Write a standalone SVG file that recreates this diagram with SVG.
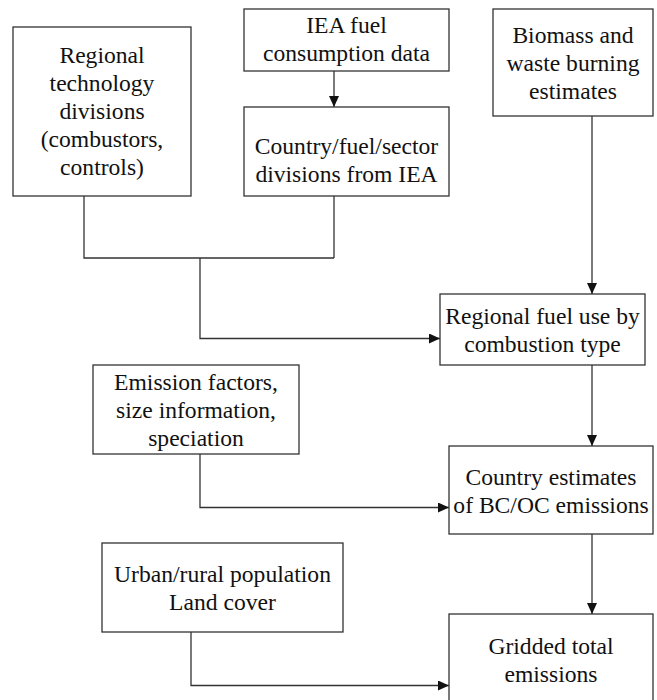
<svg xmlns="http://www.w3.org/2000/svg" width="657" height="700" viewBox="0 0 657 700" font-family="Liberation Serif, DejaVu Serif, serif">
<style>
rect.box{fill:#fff;stroke:#333;stroke-width:1.3}
text{font-size:23.6px;fill:#111;text-anchor:middle}
.c{fill:none;stroke:#333;stroke-width:1.3}
</style>
<defs>
<marker id="ah" markerWidth="11" markerHeight="10" refX="11" refY="5" orient="auto" markerUnits="userSpaceOnUse">
<path d="M0,0 L11,5 L0,10 Z" fill="#111"/>
</marker>
</defs>
<rect width="657" height="700" fill="#fff"/>
<g id="connectors">
<path class="c" d="M84,196 V258 H334"/>
<path class="c" d="M334,196 V258"/>
<path class="c" d="M200,258 V338.5 H440" marker-end="url(#ah)"/>
<path class="c" d="M334,71 V107" marker-end="url(#ah)"/>
<path class="c" d="M592,116 V294" marker-end="url(#ah)"/>
<path class="c" d="M592,365 V446" marker-end="url(#ah)"/>
<path class="c" d="M200,454 V507.5 H449" marker-end="url(#ah)"/>
<path class="c" d="M592,534 V614" marker-end="url(#ah)"/>
<path class="c" d="M191,632 V685.5 H449" marker-end="url(#ah)"/>
</g>
<g id="regional-tech">
<rect class="box" x="13" y="27" width="178" height="169"/>
<text x="102" y="63" font-family="Liberation Serif">Regional</text>
<text x="102" y="91" font-family="Liberation Serif">technology</text>
<text x="102" y="119" font-family="Liberation Serif">divisions</text>
<text x="102" y="147" font-family="Liberation Serif">(combustors,</text>
<text x="102" y="175" font-family="Liberation Serif">controls)</text>
</g>
<g id="iea-fuel">
<rect class="box" x="244" y="9" width="205" height="62"/>
<text x="346.5" y="33">IEA fuel</text>
<text x="346.5" y="61">consumption data</text>
</g>
<g id="country-fuel-sector">
<rect class="box" x="244" y="107" width="205" height="89"/>
<text x="346.5" y="154">Country/fuel/sector</text>
<text x="346.5" y="182">divisions from IEA</text>
</g>
<g id="biomass">
<rect class="box" x="493" y="9" width="160" height="107"/>
<text x="573" y="43">Biomass and</text>
<text x="573" y="71">waste burning</text>
<text x="573" y="99">estimates</text>
</g>
<g id="regional-fuel">
<rect class="box" x="440" y="294" width="205" height="71"/>
<text x="542.5" y="324">Regional fuel use by</text>
<text x="542.5" y="352">combustion type</text>
</g>
<g id="emission-factors">
<rect class="box" x="93" y="365" width="206" height="89"/>
<text x="196" y="390">Emission factors,</text>
<text x="196" y="418">size information,</text>
<text x="196" y="446">speciation</text>
</g>
<g id="country-estimates">
<rect class="box" x="449" y="446" width="204" height="88"/>
<text x="551" y="485">Country estimates</text>
<text x="551" y="513">of BC/OC emissions</text>
</g>
<g id="urban-rural">
<rect class="box" x="102" y="543" width="241" height="89"/>
<text x="222.5" y="582">Urban/rural population</text>
<text x="222.5" y="610">Land cover</text>
</g>
<g id="gridded">
<rect class="box" x="449" y="614" width="204" height="100"/>
<text x="551" y="654">Gridded total</text>
<text x="551" y="682">emissions</text>
</g>
</svg>
